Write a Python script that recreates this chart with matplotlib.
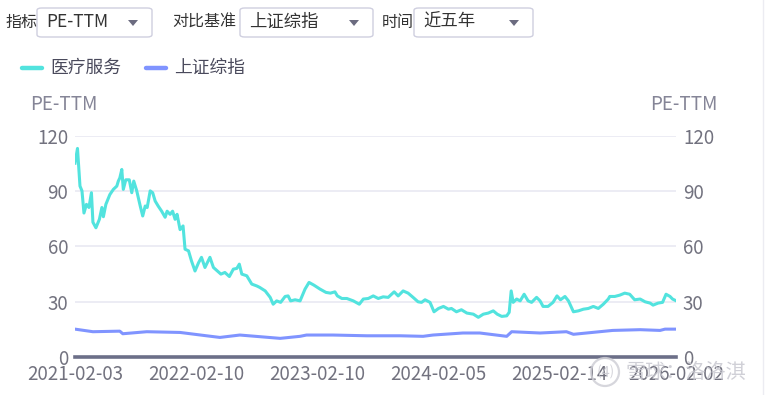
import numpy as np
import matplotlib
matplotlib.use("Agg")
import matplotlib.pyplot as plt
from matplotlib.patches import FancyBboxPatch, Polygon, Ellipse
from matplotlib.lines import Line2D

plt.rcParams['font.family'] = ['Noto Sans CJK SC', 'DejaVu Sans']

# trading-day index axis (category axis in the original)
n_days = 1208
tick_idx = [0, 243, 486, 729, 972, 1207]
tick_labels = ["2021-02-03", "2022-02-10", "2023-02-10", "2024-02-05",
               "2025-02-14", "2026-02-02"]

# 医疗服务 PE-TTM
med_idx = [0, 5, 10, 14, 18, 23, 28, 33, 36, 42, 49, 54, 57, 62, 70, 77, 84, 87,
           90, 94, 97, 102, 109, 114, 118, 124, 131, 136, 141, 145, 151, 156,
           161, 167, 174, 181, 185, 191, 196, 201, 205, 211, 217, 221, 228, 234,
           241, 248, 254, 261, 271, 278, 286, 293, 301, 310, 318, 325, 330, 335,
           345, 355, 365, 371, 382, 392, 398, 405, 413, 422, 428, 433, 442, 452,
           462, 470, 480, 492, 504, 513, 522, 527, 536, 546, 559, 571, 579, 589,
           599, 609, 619, 629, 641, 649, 659, 669, 679, 689, 696, 703, 713, 721,
           730, 740, 750, 756, 766, 776, 787, 800, 810, 820, 830, 840, 848, 857,
           867, 872, 876, 880, 887, 894, 902, 910, 917, 927, 934, 940, 950, 960,
           968, 975, 984, 991, 997, 1001, 1011, 1021, 1031, 1041, 1051, 1061,
           1071, 1074, 1084, 1094, 1104, 1114, 1124, 1135, 1145, 1155, 1161,
           1171, 1180, 1187, 1195, 1200, 1207]
med_pe = [105, 113, 92.6, 90, 78, 82.7, 81, 89, 73, 70, 74.6, 81, 76, 82.7, 88,
          90.8, 92.6, 95.3, 97, 101.6, 90.8, 96, 96, 89, 95.3, 90, 81.8, 76.4,
          81.8, 81, 90, 89, 84.5, 81.8, 79, 75.7, 79, 77.3, 79, 74.6, 77.3, 69,
          71, 58.4, 57.5, 52, 46.6, 51, 54, 48.5, 54, 48.5, 46.6, 44.9, 45.8,
          43.6, 47.6, 48, 50.3, 44.9, 44, 39.5, 38.5, 37.7, 35.8, 32.3, 28.6,
          30.4, 29.6, 32.8, 33.1, 30.4, 31, 30.4, 36.8, 40.4, 38.9, 36.8, 35,
          34.6, 35.3, 33.1, 31.7, 31.7, 30.4, 28.6, 31.4, 31.7, 33.1, 31.7, 32.6,
          32.3, 35.3, 33.1, 35.8, 34.6, 32.3, 29.9, 29.6, 31, 29.6, 24.5, 26.3,
          27.4, 25.9, 26.3, 24.5, 25.6, 23.8, 23.2, 21.5, 23.2, 23.8, 25, 23.2,
          22, 22.3, 24.2, 35.8, 29.6, 31.4, 30.4, 34, 30.4, 29.6, 32.3, 30.4,
          27.4, 27.4, 29.6, 33.1, 31, 32.8, 30.4, 26.8, 24.5, 25, 25.9, 26.3,
          27.4, 26.3, 28.6, 31.4, 32.8, 32.8, 33.5, 34.6, 34, 31, 31.4, 29.9,
          29.2, 28.1, 29.2, 29.6, 34, 32.8, 31.4, 30.5]

# 上证综指 PE-TTM
sh_idx = [0, 36, 90, 96, 144, 211, 264, 291, 331, 412, 452, 465, 518, 586, 653,
          699, 719, 779, 813, 867, 877, 934, 987, 1001, 1080, 1135, 1175, 1185,
          1207]
sh_pe = [15.1, 13.7, 14, 12.6, 13.7, 13.3, 11.5, 10.6, 11.9, 10.1, 11.2, 11.9,
         11.9, 11.5, 11.5, 11.2, 11.9, 13, 13, 11.2, 13.7, 13, 13.7, 12.3, 14.4,
         14.8, 14.4, 15.1, 15.1]

W, H = 769, 395
fig = plt.figure(figsize=(W / 100, H / 100), dpi=100)


def fx(x):
    return x / W


def fy(y):
    return 1 - y / H


ax = fig.add_axes([fx(75), fy(357), fx(676) - fx(75), fy(135.5) - fy(357)])
ax.plot(med_idx, med_pe, color='#52e3de', lw=2.2, solid_joinstyle='round')
ax.plot(sh_idx, sh_pe, color='#8094ff', lw=2.2, solid_joinstyle='round')

ax.set_xlim(0, n_days - 1)
ax.set_ylim(0, 120)
ax.set_yticks([0, 30, 60, 90, 120])
ax.set_xticks(tick_idx)
ax.set_xticklabels(tick_labels)
ax.grid(axis='y', color='#e9e9f2', lw=1.2)
ax.set_axisbelow(True)
for s in ['top', 'right', 'left']:
    ax.spines[s].set_visible(False)
ax.spines['bottom'].set_color('#6c6f88')
ax.spines['bottom'].set_linewidth(2.6)
ax.tick_params(length=0, labelsize=13.5, labelcolor='#72727f')
ax.tick_params(axis='x', pad=5)
ax.tick_params(axis='y', pad=5)

ax2 = ax.twinx()
ax2.set_ylim(0, 120)
ax2.set_yticks([0, 30, 60, 90, 120])
for s in ['top', 'right', 'left', 'bottom']:
    ax2.spines[s].set_visible(False)
ax2.tick_params(length=0, labelsize=13.5, labelcolor='#72727f', pad=5)

# axis names
fig.text(fx(64), fy(105), 'PE-TTM', ha='center', va='center', fontsize=13.5, color='#858597')
fig.text(fx(684), fy(105), 'PE-TTM', ha='center', va='center', fontsize=13.5, color='#858597')

# legend
for x0, col, name in [(22, '#52e3de', '医疗服务'), (146, '#8094ff', '上证综指')]:
    fig.add_artist(Line2D([fx(x0), fx(x0 + 20)], [fy(68), fy(68)], color=col, lw=3.2,
                          solid_capstyle='round'))
    fig.text(fx(x0 + 28), fy(68), name, ha='left', va='center', fontsize=12.8, color='#4a4a5c')

# selectors on top
controls = [(5, '指标', 37, 152, 'PE-TTM'), (172, '对比基准', 240, 373, '上证综指'),
            (382, '时间', 414, 533, '近五年')]
for lx, lab, bx0, bx1, val in controls:
    fig.text(fx(lx), fy(22), lab, ha='left', va='center', fontsize=11.5, color='#333333')
    box = FancyBboxPatch((fx(bx0), fy(37)), fx(bx1) - fx(bx0), fy(8) - fy(37),
                         boxstyle='round,pad=0,rounding_size=0.006', transform=fig.transFigure,
                         fc='white', ec='#cfcfdf', lw=1)
    fig.add_artist(box)
    fig.text(fx(bx0 + 9), fy(22), val, ha='left', va='center', fontsize=12.5, color='#333333')
    tx = bx1 - 19
    fig.add_artist(Polygon([[fx(tx - 5), fy(20)], [fx(tx + 5), fy(20)], [fx(tx), fy(26)]],
                           closed=True, transform=fig.transFigure, fc='#6b6b80', ec='none'))

# watermark
fig.add_artist(Ellipse((fx(605), fy(372)), 28 / W, 28 / H, transform=fig.transFigure,
                       fc='none', ec='#cfcfd6', lw=1.6, alpha=0.85))
fig.text(fx(605), fy(372), '⑷', ha='center', va='center', fontsize=11,
         color='#c8c8d0', alpha=0.85)
fig.text(fx(686), fy(372), '雪球：洛洛淇', ha='center', va='center', fontsize=14.5,
         color='#c8c8d0', alpha=0.85)

# container border on the right
fig.add_artist(Line2D([fx(763), fx(763)], [0, 1], color='#ececf2', lw=1))

fig.savefig('out.png', dpi=100)
